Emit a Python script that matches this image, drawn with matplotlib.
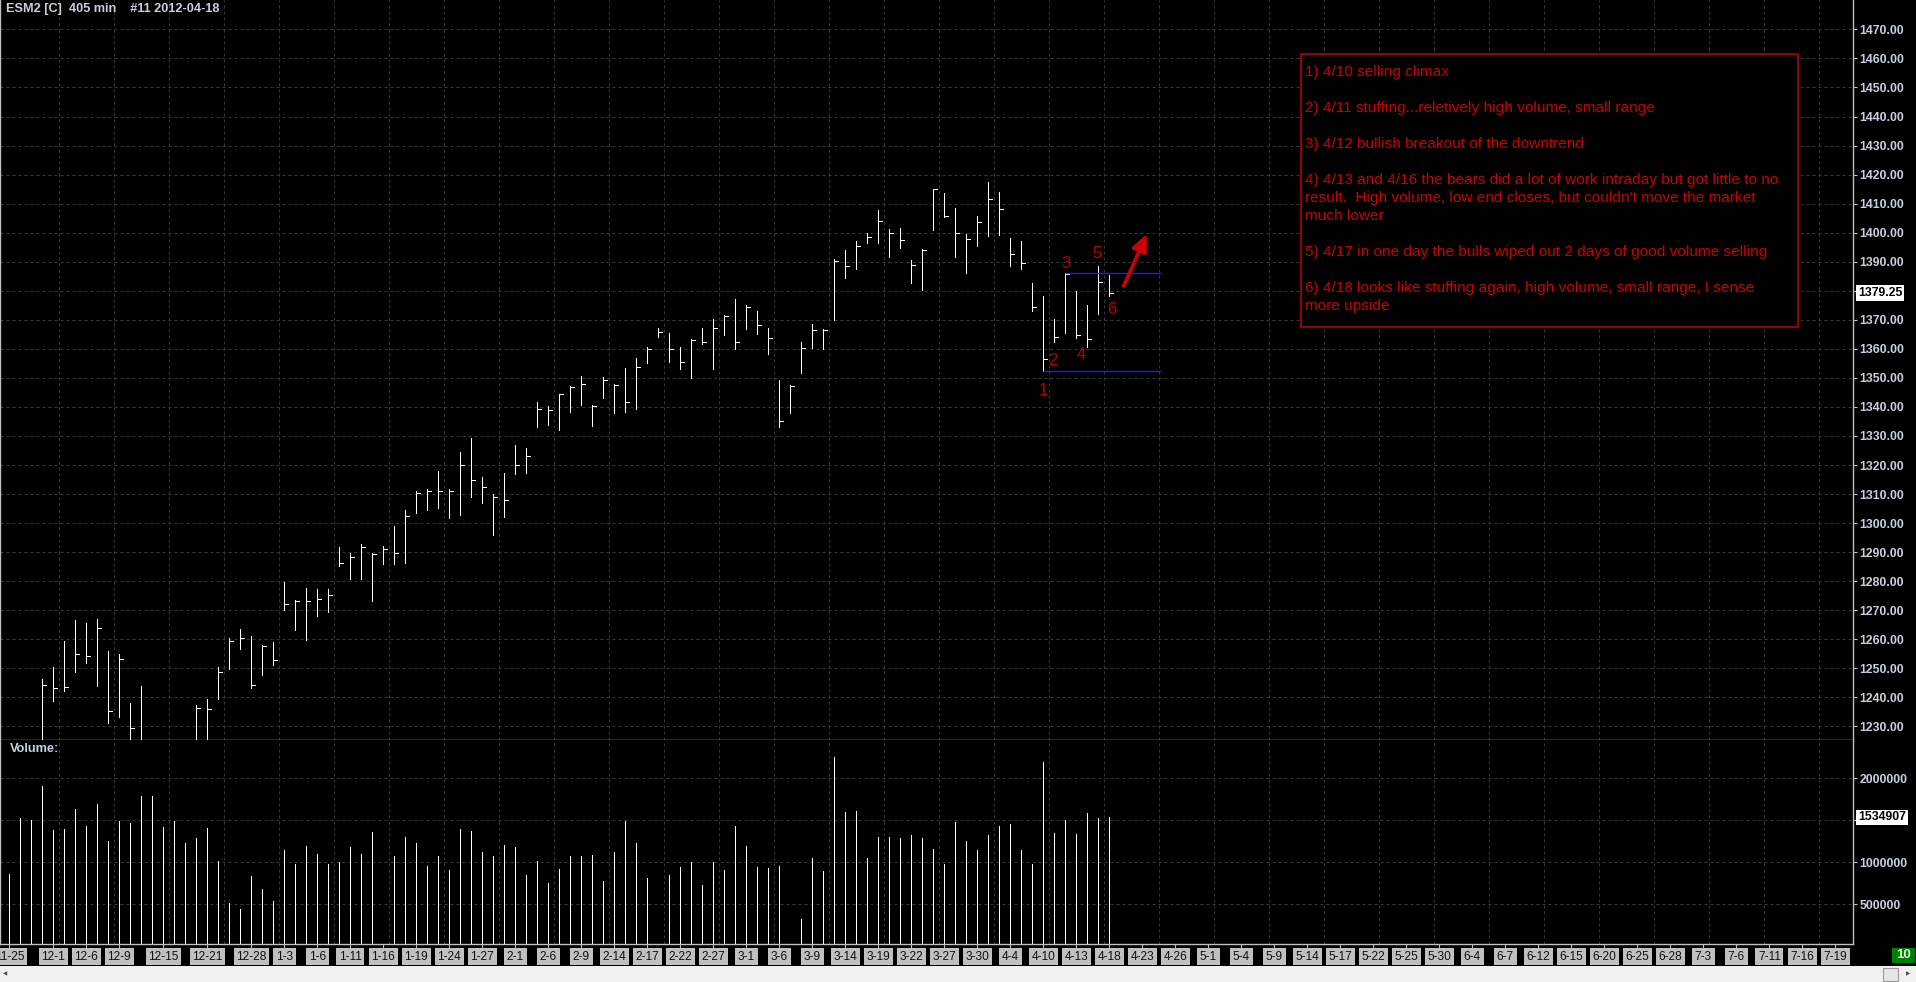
import matplotlib
matplotlib.use("Agg")
import matplotlib.pyplot as plt
import matplotlib.transforms as mtransforms
from matplotlib.patches import Rectangle
import pandas as pd

# ---------------- data ----------------
past_days = pd.bdate_range("2011-11-25", "2012-04-18").drop(
    pd.to_datetime(["2011-12-26", "2012-01-02", "2012-04-06"]))
future_days = pd.bdate_range("2012-04-19", "2012-08-10")
day_keys = [f"{d.month}-{d.day}" for d in list(past_days) + list(future_days)]

highs = [1165, 1195, 1200, 1246.4, 1250.6, 1259.5, 1266.5, 1265.6, 1267.0, 1256.0,
         1254.8, 1238.1, 1244.0, 1222, 1222, 1223, 1218, 1237.3, 1239.4, 1250.6,
         1260.6, 1263.6, 1261.1, 1258.1, 1258.9, 1279.8, 1273.5, 1277.8, 1277.3, 1277.3,
         1291.8, 1289.8, 1292.8, 1289.8, 1292.0, 1299.0, 1304.4, 1311.2, 1311.6, 1317.9,
         1311.6, 1324.4, 1329.4, 1316.0, 1309.9, 1317.1, 1326.9, 1325.7, 1341.6, 1340.3,
         1344.6, 1347.1, 1350.8, 1340.8, 1350.4, 1347.9, 1353.3, 1357.0, 1360.7, 1367.1,
         1365.3, 1360.5, 1363.3, 1367.1, 1370.2, 1371.7, 1377.2, 1375.1, 1373.0, 1367.3,
         1349.3, 1347.5, 1362.3, 1368.6, 1366.7, 1391.0, 1394.1, 1397.3, 1399.8, 1407.8,
         1401.2, 1401.5, 1390.6, 1394.3, 1414.9, 1413.8, 1408.4, 1399.5, 1405.7, 1417.3,
         1413.9, 1398.1, 1397.3, 1382.6, 1378.3, 1370.2, 1386.0, 1380.0, 1375.1, 1388.5,
         1385.4]
lows = [1150, 1170, 1183, 1192, 1238.9, 1242.3, 1248.9, 1251.9, 1243.9, 1231.1,
        1233.1, 1220, 1215, 1203, 1207, 1208, 1198, 1205, 1215, 1239.3,
        1249.8, 1256.5, 1243.1, 1247.6, 1251.0, 1270.1, 1263.1, 1259.8, 1268.1, 1269.5,
        1285.2, 1280.7, 1280.7, 1273.2, 1286.0, 1286.0, 1286.2, 1303.6, 1304.5, 1305.2,
        1301.6, 1302.9, 1309.0, 1307.0, 1296.0, 1302.2, 1316.9, 1317.4, 1333.2, 1333.7,
        1332.1, 1338.3, 1340.8, 1333.6, 1343.0, 1337.8, 1338.2, 1339.2, 1355.0, 1364.0,
        1355.6, 1353.0, 1350.1, 1361.7, 1353.0, 1364.7, 1359.8, 1366.7, 1365.0, 1358.2,
        1333.0, 1338.0, 1351.8, 1360.4, 1359.9, 1370.0, 1384.3, 1387.4, 1396.3, 1396.3,
        1391.7, 1394.6, 1382.6, 1380.3, 1400.9, 1405.5, 1391.7, 1386.2, 1395.4, 1398.9,
        1399.2, 1388.5, 1387.4, 1373.1, 1352.5, 1362.5, 1365.3, 1363.7, 1360.7, 1371.9,
        1378.2]
closes = [1152, 1188, 1190, 1244.1, 1243.3, 1243.4, 1255.1, 1254.4, 1264.0, 1235.3,
          1253.1, 1229.4, 1218, 1208, 1212, 1213, 1200, 1236.4, 1236.1, 1248.9,
          1259.5, 1260.5, 1244.3, 1257.6, 1252.8, 1272.3, 1273.2, 1273.2, 1273.7, 1275.1,
          1286.2, 1288.2, 1291.8, 1289.5, 1291.2, 1289.8, 1302.4, 1310.2, 1310.9, 1311.0,
          1311.0, 1320.0, 1314.9, 1312.4, 1309.0, 1307.9, 1320.0, 1323.0, 1339.4, 1339.1,
          1344.3, 1346.8, 1347.8, 1340.3, 1349.4, 1347.6, 1341.6, 1353.9, 1359.8, 1365.9,
          1359.8, 1355.5, 1363.0, 1362.5, 1367.1, 1371.4, 1362.5, 1374.5, 1368.2, 1363.8,
          1335.0, 1347.3, 1360.2, 1366.5, 1366.5, 1390.4, 1388.5, 1395.5, 1398.4, 1404.1,
          1399.8, 1397.5, 1388.8, 1394.1, 1414.9, 1405.7, 1399.8, 1397.7, 1403.8, 1411.5,
          1408.0, 1392.7, 1389.7, 1374.3, 1356.4, 1364.2, 1385.7, 1364.8, 1363.3, 1383.1,
          1379.25]
volumes = [861000, 1528000, 1504000, 1909000, 1385000, 1397000, 1635000, 1432000, 1694000, 1254000,
           1492000, 1468000, 1790000, 1790000, 1421000, 1492000, 1230000, 1290000, 1409000, 1016000,
           516000, 444000, 837000, 682000, 540000, 1147000, 980000, 1194000, 1099000, 980000,
           1004000, 1182000, 1099000, 1361000, 0, 1075000, 1301000, 1230000, 956000, 1075000,
           909000, 1397000, 1373000, 1123000, 1075000, 1206000, 1182000, 849000, 1016000, 754000,
           921000, 1075000, 1075000, 1087000, 778000, 1123000, 1492000, 1230000, 813000, 0,
           849000, 944000, 1004000, 730000, 1004000, 909000, 1432000, 1194000, 944000, 932000,
           956000, 0, 325000, 1052000, 897000, 2254000, 1599000, 1611000, 1052000, 1301000,
           1301000, 1290000, 1325000, 1290000, 1159000, 980000, 1480000, 1254000, 1147000, 1325000,
           1432000, 1456000, 1147000, 980000, 2194000, 1349000, 1504000, 1337000, 1587000, 1528000,
           1534907]

date_labels = ["11-25", "12-1", "12-6", "12-9", "12-15", "12-21", "12-28", "1-3", "1-6", "1-11",
               "1-16", "1-19", "1-24", "1-27", "2-1", "2-6", "2-9", "2-14", "2-17", "2-22",
               "2-27", "3-1", "3-6", "3-9", "3-14", "3-19", "3-22", "3-27", "3-30", "4-4",
               "4-10", "4-13", "4-18", "4-23", "4-26", "5-1", "5-4", "5-9", "5-14", "5-17",
               "5-22", "5-25", "5-30", "6-4", "6-7", "6-12", "6-15", "6-20", "6-25", "6-28",
               "7-3", "7-6", "7-11", "7-16", "7-19"]
price_ticks = list(range(1230, 1471, 10))
volume_ticks = [500000, 1000000, 1500000, 2000000]
note_numbers = ["1", "2", "3", "4", "5", "6"]
note_lines = [
    "1) 4/10 selling climax", "",
    "2) 4/11 stuffing...reletively high volume, small range", "",
    "3) 4/12 bullish breakout of the downtrend", "",
    "4) 4/13 and 4/16 the bears did a lot of work intraday but got little to no",
    "result.  High volume, low end closes, but couldn't move the market",
    "much lower", "",
    "5) 4/17 in one day the bulls wiped out 2 days of good volume selling", "",
    "6) 4/18 looks like stuffing again, high volume, small range, I sense",
    "more upside",
]
header = "ESM2 [C]  405 min    #11 2012-04-18"

# ---------------- layout ----------------
W, H = 1916, 982
AX_R = 1853
FG = "#c8d0dc"
GRID = "#383838"
FRAME = "#c0c0c0"
LW1 = 0.72  # one pixel at 100 dpi
SANS = ["Liberation Sans", "DejaVu Sans"]

fig = plt.figure(figsize=(W / 100, H / 100), dpi=100, facecolor="black")
ax_p = fig.add_axes([0, 1 - 740 / H, AX_R / W, 740 / H])
ax_v = fig.add_axes([0, 1 - 944 / H, AX_R / W, 204 / H], sharex=ax_p)

idx = list(range(len(closes)))
xmin, xmax = -0.855, 167.6

for ax in (ax_p, ax_v):
    ax.set_facecolor("black")
    for s in ax.spines.values():
        s.set_color(FRAME)
        s.set_linewidth(1.0)
    ax.spines["top"].set_visible(False)
    ax.yaxis.tick_right()
    ax.tick_params(axis="y", colors=FRAME, length=3, width=0.8, pad=1.5,
                   labelcolor=FG, labelsize=8.8)
    ax.set_xlim(xmin, xmax)
    ax.vlines([k + 0.5 for k in range(4, 168, 5)], 0, 1, transform=ax.get_xaxis_transform(),
              colors=GRID, linestyles=(0, (3, 3)), linewidth=LW1, zorder=0)

# price panel
ax_p.set_ylim(1225.32, 1480.12)
ax_p.hlines(price_ticks, xmin, xmax, colors=GRID, linestyles=(0, (3, 3)), linewidth=LW1, zorder=0)
ax_p.vlines(idx, lows, highs, colors="white", linewidth=LW1, antialiased=False, zorder=2)
ax_p.hlines(closes, idx, [i + 0.32 for i in idx], colors="white", linewidth=LW1,
            antialiased=False, zorder=2)
ax_p.set_yticks(price_ticks)
ax_p.set_yticklabels(["" if abs(v - closes[-1]) < 4 else f"{v:.2f}" for v in price_ticks],
                     fontweight="bold", family=SANS)
ax_p.tick_params(axis="x", bottom=False, labelbottom=False)

# support / resistance lines
level_end = 104.7
ax_p.hlines(highs[96], 96, level_end, colors="#1c1cff", linewidth=1.0, zorder=3)
ax_p.hlines(lows[94], 94, level_end, colors="#1c1cff", linewidth=1.0, zorder=3)

# numbers
num_pos = [(94.0, 1345.8), (94.85, 1356.0), (96.05, 1389.5), (97.45, 1357.9),
           (98.9, 1392.9), (100.2, 1373.4)]
for t, (xx, yy) in zip(note_numbers, num_pos):
    ax_p.text(xx, yy, t, color="#b80000", fontsize=12, ha="center", va="center",
              family=SANS, zorder=4)

ax_p.annotate("", xy=(103.4, 1399.6), xytext=(101.3, 1381.7),
              arrowprops=dict(arrowstyle="-|>,head_length=1.0,head_width=0.45",
                              color="#cc0000", lw=2.6, mutation_scale=10,
                              shrinkA=0, shrinkB=0), zorder=4)

blend_p = mtransforms.blended_transform_factory(ax_p.transAxes, ax_p.transData)
ax_p.text(1 + 5 / AX_R, closes[-1], f"{closes[-1]:.2f}", transform=blend_p, color="black",
          fontsize=8.8, fontweight="bold", family=SANS,
          ha="left", va="center", zorder=10, clip_on=False,
          bbox=dict(boxstyle="square,pad=0.15", fc="white", ec="none"))

# volume panel
ax_v.set_ylim(27000, 2456000)
ax_v.hlines(volume_ticks, xmin, xmax, colors=GRID, linestyles=(0, (3, 3)), linewidth=LW1, zorder=0)
ax_v.vlines(idx, 0, volumes, colors="white", linewidth=LW1, antialiased=False, zorder=2)
ax_v.set_yticks(volume_ticks)
ax_v.set_yticklabels(["" if abs(v - volumes[-1]) < 150000 else str(v) for v in volume_ticks],
                     fontweight="bold", family=SANS)
blend_v = mtransforms.blended_transform_factory(ax_v.transAxes, ax_v.transData)
ax_v.text(1 + 5 / AX_R, volumes[-1], str(volumes[-1]), transform=blend_v, color="black",
          fontsize=8.8, fontweight="bold", family=SANS,
          ha="left", va="center", zorder=10, clip_on=False,
          bbox=dict(boxstyle="square,pad=0.15", fc="white", ec="none"))

tick_pos = [day_keys.index(l) for l in date_labels]
ax_v.set_xticks(tick_pos)
ax_v.set_xticklabels(date_labels, family=SANS, fontsize=8.6, color="black")
ax_v.tick_params(axis="x", colors=FRAME, length=3, width=0.8, pad=1.8, labelcolor="#101010")
for lab in ax_v.get_xticklabels():
    lab.set_bbox(dict(boxstyle="square,pad=0.22", fc="#c0c0c0", ec="none"))

# texts in figure pixels
def fx(x):
    return x / W

def fy(y):
    return 1 - y / H

fig.text(fx(6), fy(9), header, color=FG, fontsize=9.2, fontweight="bold",
         family=SANS, ha="left", va="center")
fig.text(fx(10), fy(749.5), "Volume:", color=FG, fontsize=9.2, fontweight="bold",
         family=SANS, ha="left", va="center")

# notes box
fig.add_artist(Rectangle((fx(1300.7), fy(327.3)), fx(1798.3 - 1300.7), (327.3 - 54) / H,
                         transform=fig.transFigure, fc="black", ec="#c40000", lw=1.1, zorder=5))
y0 = 72.3
for k, line in enumerate(note_lines):
    if line:
        fig.text(fx(1305.3), fy(y0 + 18 * k), line, color="#c80000", fontsize=11.1,
                 family=SANS, ha="left", va="center", zorder=6)

# bottom scrollbar and status box
fig.add_artist(Rectangle((0, 0), 1, 16 / H, transform=fig.transFigure,
                         fc="#f0f0f0", ec="none", zorder=5))
fig.add_artist(Rectangle((fx(1883), 1.5 / H), fx(15), 13 / H, transform=fig.transFigure,
                         fc="#e6e6e6", ec="#9a9a9a", lw=0.8, zorder=6))
fig.text(fx(5), 8 / H, "\u25c0", color="#505050", fontsize=4, ha="center", va="center", zorder=7)
fig.text(fx(1908), 8 / H, "\u25b6", color="#505050", fontsize=4, ha="center", va="center", zorder=7)
fig.add_artist(Rectangle((fx(1892), fy(963)), fx(23), 15 / H, transform=fig.transFigure,
                         fc="#008000", ec="none", zorder=5))
fig.text(fx(1903.5), fy(955.5), "10", color="#e8e8e8", fontsize=9.5, fontweight="bold",
         family=SANS, ha="center", va="center", zorder=6)

fig.savefig("out.png", dpi=100, facecolor="black")
